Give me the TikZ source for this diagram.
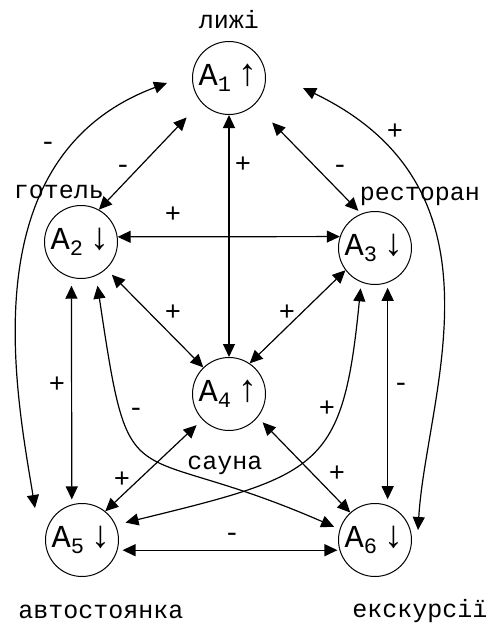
\documentclass[tikz,border=0pt]{standalone}
\usepackage{fontspec}
\setmainfont{Liberation Mono}
\usetikzlibrary{arrows.meta}

\newcommand{\alttext}[2]{A\raisebox{-0.35ex}{\fontsize{22}{22}\selectfont #1}\,{\fontsize{38}{38}\selectfont #2}}

\begin{document}
\begin{tikzpicture}[
  x=1pt,
  y=-1pt,
  state/.style={
    circle,draw,line width=1pt,minimum size=73pt,inner sep=0pt,
    font=\fontsize{32}{34}\selectfont
  },
  place/.style={font=\fontsize{25}{27}\selectfont,inner sep=1pt},
  sign/.style={font=\fontsize{27}{29}\selectfont,inner sep=0pt},
  link/.style={
    {Triangle[length=13pt,width=12pt]}-{Triangle[length=13pt,width=12pt]},
    line width=1.2pt
  }
]
  \useasboundingbox (0,0) rectangle (488,623);

  % Alternatives
  \node[state] (a1) at (229,78) {\alttext{1}{↑}};
  \node[state] (a2) at (81,242) {\alttext{2}{↓}};
  \node[state] (a3) at (375,248) {\alttext{3}{↓}};
  \node[state] (a4) at (229,394) {\alttext{4}{↑}};
  \node[state] (a5) at (82,540) {\alttext{5}{↓}};
  \node[state] (a6) at (375,540) {\alttext{6}{↓}};

  % Names
  \node[place] (ski) at (229,20) {лижі};
  \node[place] (hotel) at (59,192) {готель};
  \node[place] (rest) at (420,196) {ресторан};
  \node[place] (sauna) at (225,465) {сауна};
  \node[place] (park) at (101,612) {автостоянка};
  \node[place] (tour) at (420,611) {екскурсії};

  % Straight links
  \draw[link,shorten <=21pt] (a1.221) -- (a2.61);
  \draw[link,shorten <=25pt,shorten >=4pt] (a1.314) -- (a3.112);
  \draw[link] (a1) -- (a4);
  \draw[link] (a2.8) -- (a3.162);
  \draw[link,shorten <=8pt] (a2.313) -- (a4.134);
  \draw[link] (a3.217) -- (a4.56);
  \draw[link,shorten <=8pt,shorten >=5pt] (a2.255) -- (a5.106);
  \draw[link,shorten <=5pt,shorten >=6pt] (a3.290) -- (a6.70);
  \draw[link,shorten <=8pt] (a4.224) -- (a5.51);
  \draw[link,shorten <=7pt] (a4.321) -- (a6.132);
  \draw[link,shorten <=5pt,shorten >=2pt] (a5.344) -- (a6.196);

  % Curved links
  \draw[link] ([shift={(-62,5)}]a1.center)
    .. controls (-32,157) and (17,397) .. ([shift={(-47,-32)}]a5.center);
  \draw[link] ([shift={(74,10)}]a1.center)
    .. controls (515,190) and (426,396) .. ([shift={(43,-10)}]a6.center);
  \draw[link,shorten <=10pt,shorten >=6pt] (a2.294)
    .. controls (131,510) and (124,435) .. (a6.163);
  \draw[link,shorten <=6pt,shorten >=10pt] (a3.248)
    .. controls (343,469) and (320,475) .. (a5.24);

  % Signs
  \node[sign] (s12) at (123,169) {-};
  \node[sign] (s13) at (340,169) {-};
  \node[sign] (s14) at (243,165) {+};
  \node[sign] (s15) at (48,146) {-};
  \node[sign] (s16) at (395,132) {+};
  \node[sign] (s23) at (173,215) {+};
  \node[sign] (s24) at (173,313) {+};
  \node[sign] (s34) at (287,313) {+};
  \node[sign] (s25) at (57,385) {+};
  \node[sign] (s26) at (136,412) {-};
  \node[sign] (s35) at (327,409) {+};
  \node[sign] (s36) at (401,387) {-};
  \node[sign] (s45) at (122,480) {+};
  \node[sign] (s46) at (337,474) {+};
  \node[sign] (s56) at (232,537) {-};
\end{tikzpicture}
\end{document}
